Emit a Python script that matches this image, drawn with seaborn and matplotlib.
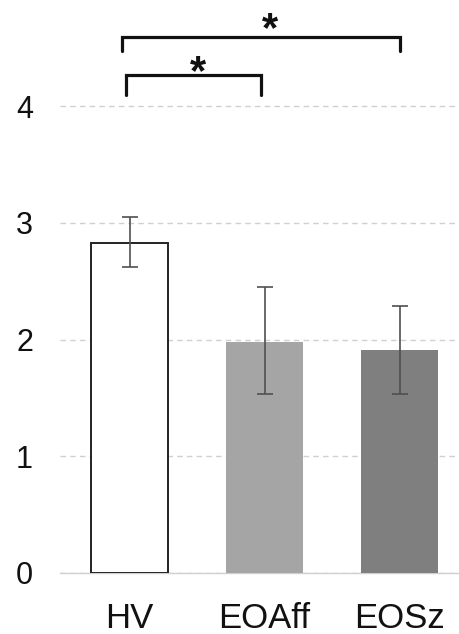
import matplotlib
matplotlib.use("Agg")
import matplotlib.pyplot as plt
import seaborn as sns
import pandas as pd

groups = ["HV", "EOAff", "EOSz"]
means = [2.83, 1.98, 1.91]
err_low = [0.21, 0.45, 0.38]
err_high = [0.22, 0.47, 0.38]
bar_colors = ["#ffffff", "#a5a5a5", "#7f7f7f"]
y_ticks = [0, 1, 2, 3, 4]

# significance brackets: (left group, right group, label)
comparisons = [(0, 1, "*"), (0, 2, "*")]

sns.set_theme(style="white")
plt.rcParams["font.family"] = ["Liberation Sans", "DejaVu Sans"]

df = pd.DataFrame({"group": groups, "value": means})

fig = plt.figure(figsize=(4.59, 6.34), dpi=100)
ax = fig.add_axes([60 / 459, 61 / 634, 1 - 60 / 459, 573 / 634])

sns.barplot(data=df, x="group", y="value", hue="group", palette=bar_colors,
            legend=False, errorbar=None, width=0.57, ax=ax, zorder=3,
            edgecolor="none", linewidth=0)
# outline for the white bar
ax.patches[0].set_edgecolor("#222222")
ax.patches[0].set_linewidth(1.4)

ax.errorbar(range(len(groups)), means, yerr=[err_low, err_high], fmt="none",
            ecolor="#505050", elinewidth=1.2, capsize=5.5, capthick=1.2, zorder=4)

ax.set_xlim(-0.515, 2.44)
ax.set_ylim(0, 4.91)
ax.set_yticks(y_ticks)
ax.set_yticklabels([str(t) for t in y_ticks])
ax.grid(axis="y", color="#d0d0d0", linestyle=(0, (4, 3)), linewidth=1.0, zorder=0)
ax.grid(axis="x", visible=False)
ax.set_axisbelow(True)

for side in ["top", "right", "left"]:
    ax.spines[side].set_visible(False)
ax.spines["bottom"].set_color("#d0d0d0")
ax.spines["bottom"].set_linewidth(1.0)

ax.tick_params(axis="y", length=0, pad=19.5, labelsize=22, labelcolor="#111111")
ax.tick_params(axis="x", length=0, pad=21, labelsize=25, labelcolor="#111111")
ax.set_xlabel("")
ax.set_ylabel("")

# bracket geometry per comparison: top height, leg drop, end insets, star offsets
bracket_style = {
    (0, 1): dict(top=4.27, drop=0.17, dx0=-0.026, dx1=-0.028, star_dx=0.035, star_y=4.19),
    (0, 2): dict(top=4.59, drop=0.12, dx0=-0.058, dx1=0.004, star_dx=0.065, star_y=4.56),
}
for i, j, label in comparisons:
    s = bracket_style[(i, j)]
    x0, x1 = i + s["dx0"], j + s["dx1"]
    h = s["top"]
    ax.plot([x0, x0, x1, x1], [h - s["drop"], h, h, h - s["drop"]], color="#111111",
            linewidth=2.3, clip_on=False, zorder=5, solid_joinstyle="miter")
    ax.text((x0 + x1) / 2 + s["star_dx"], s["star_y"], label, ha="center",
            va="baseline", fontsize=30, fontweight="bold", color="#111111",
            clip_on=False)

fig.savefig("out.png", dpi=100, facecolor="white")
